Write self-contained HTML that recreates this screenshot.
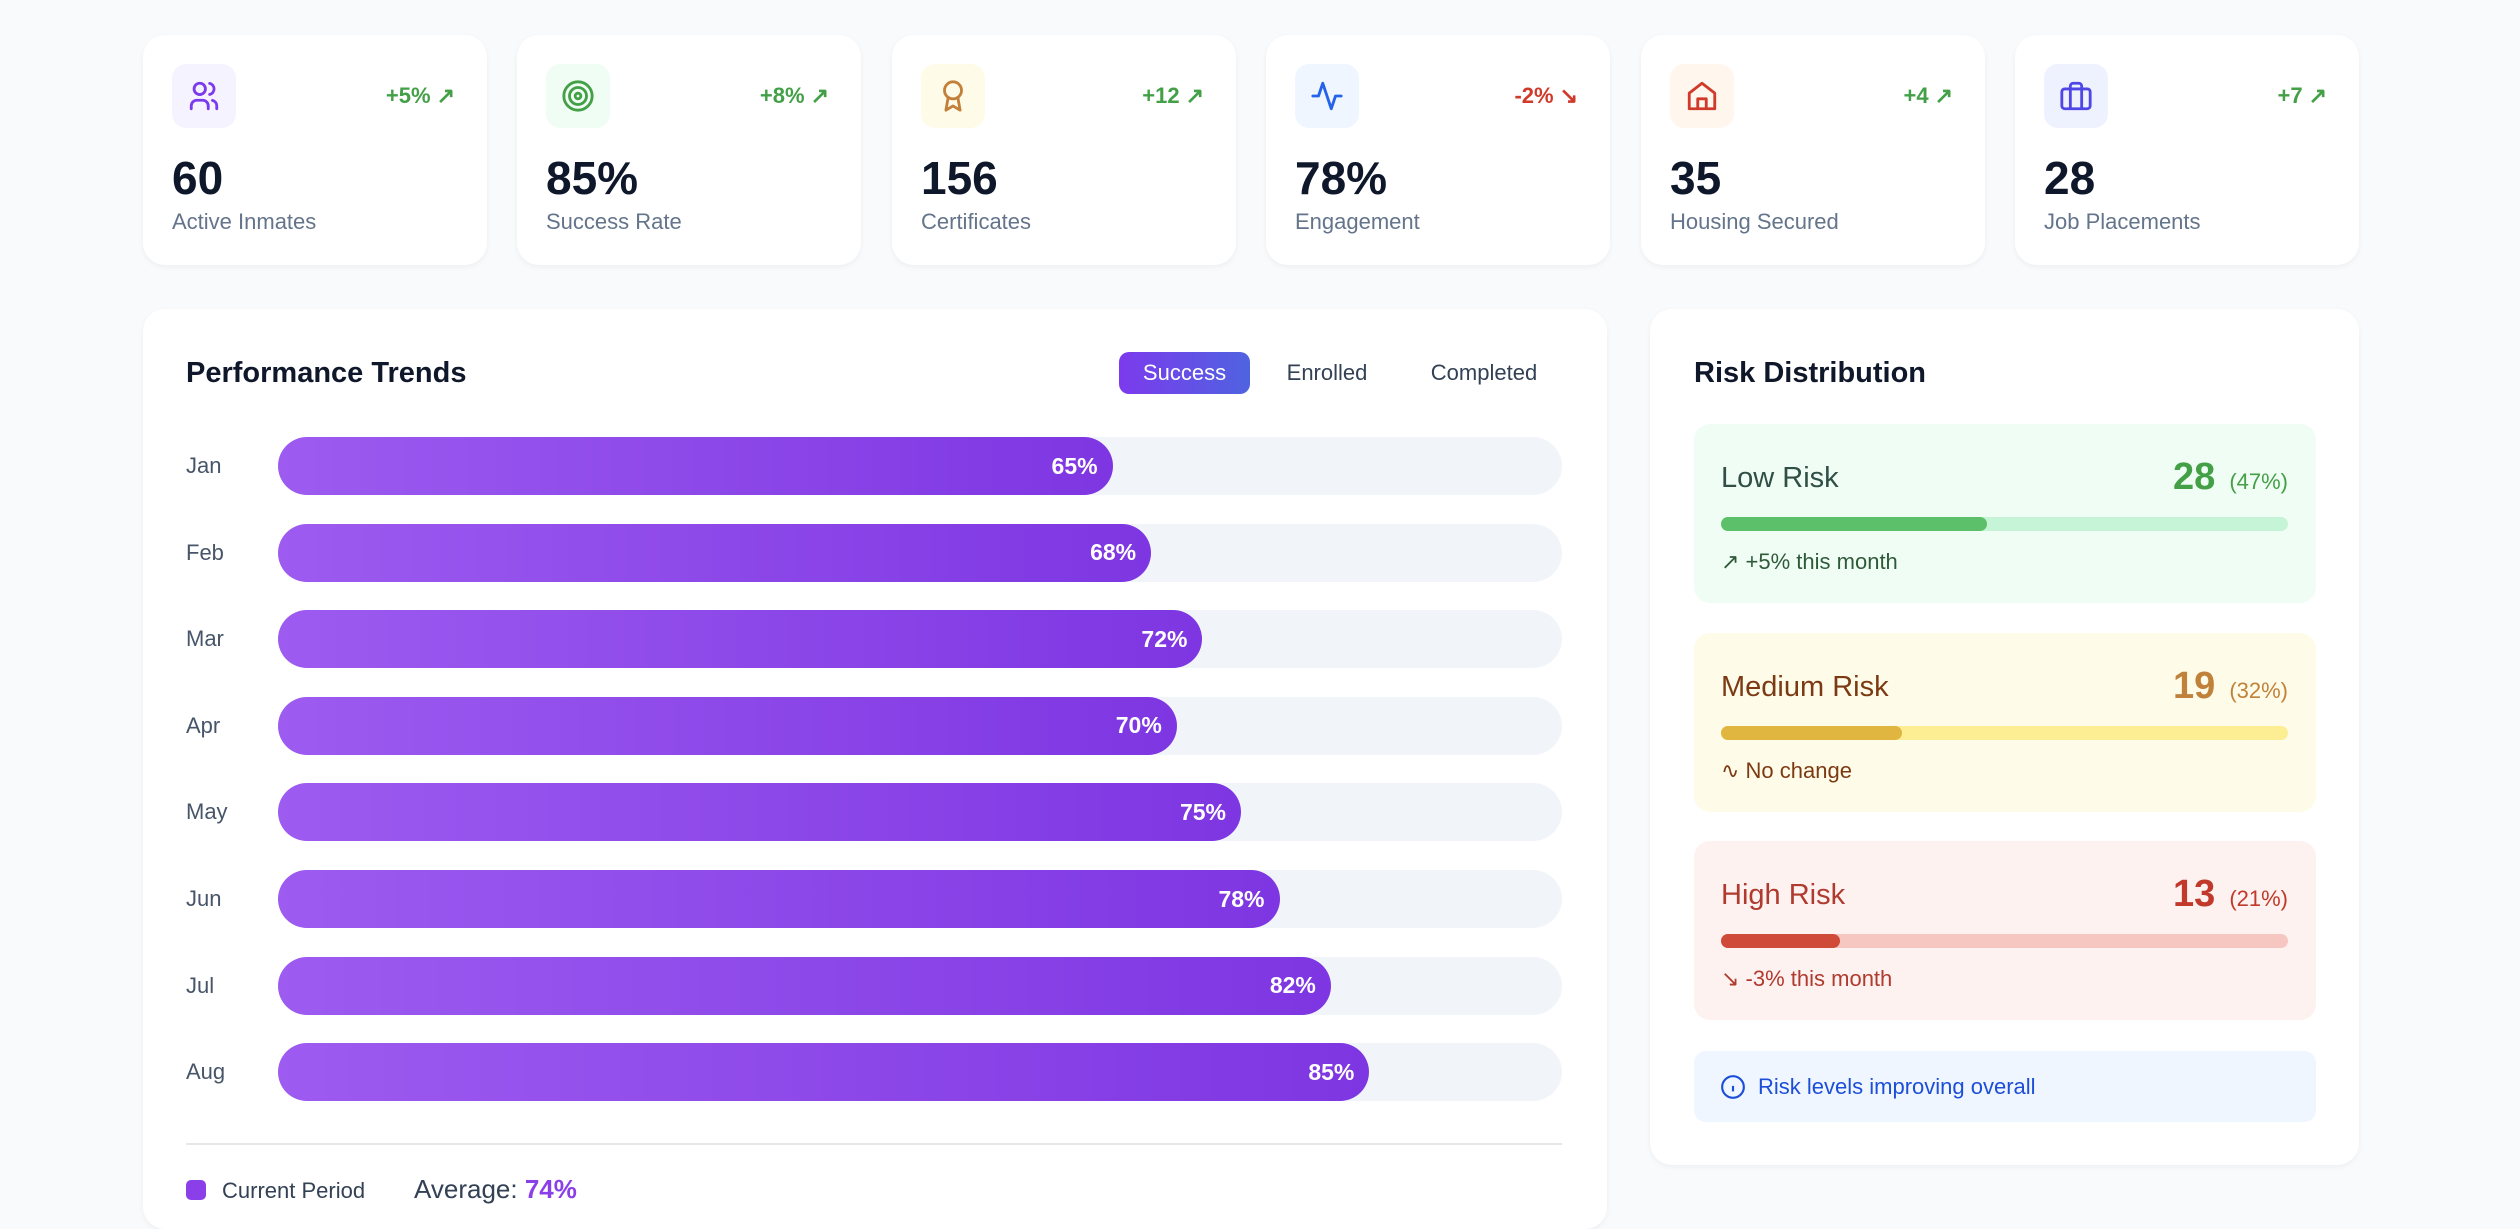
<!DOCTYPE html>
<html><head><meta charset="utf-8"><style>
*{box-sizing:border-box;margin:0;padding:0}
body{width:2520px;height:1192px;overflow:hidden;background:#f8fafc;font-family:"Liberation Sans",sans-serif;position:relative}
.card{position:absolute;background:#fff;border-radius:22px;box-shadow:0 2px 6px rgba(15,23,42,.05)}
.stat{top:35px;width:344px;height:230px}
.ib{position:absolute;left:29px;top:29px;width:64px;height:64px;border-radius:14px;display:flex;align-items:center;justify-content:center}
.trend{position:absolute;right:32px;top:48px;font-size:22px;font-weight:bold;display:flex;align-items:center;gap:6px}
.num{position:absolute;left:29px;top:116px;font-size:46px;font-weight:bold;color:#0f172a}
.lbl{position:absolute;left:29px;top:174px;font-size:22px;color:#64748b}
.t{position:absolute;font-size:29px;font-weight:bold;color:#0f172a}
.btn{position:absolute;top:352px;height:42px;font-size:22px;display:flex;align-items:center;justify-content:center;color:#334155;font-weight:500}
.mlab{position:absolute;left:186px;font-size:22px;color:#475569;transform:translateY(-50%)}
.track{position:absolute;left:278px;width:1284px;height:58px;border-radius:29px;background:#f1f5f9}
.bar{position:absolute;left:0;top:0;height:58px;border-radius:29px;background:linear-gradient(90deg,#9d5bf0,#7e36e2);color:#fff;font-weight:bold;font-size:23px;display:flex;align-items:center;justify-content:flex-end;padding-right:15px}
.rbox{position:absolute;left:1694px;width:622px;border-radius:16px;height:179px}
.rt{position:absolute;left:27px;top:38px;font-size:29px}
.rn{position:absolute;right:28px;top:32px;display:flex;align-items:baseline;gap:14px}
.rn b{font-size:38px}
.rn span{font-size:22px}
.rtrack{position:absolute;left:27px;right:28px;top:93px;height:14px;border-radius:7px}
.rfill{height:14px;border-radius:7px}
.rsub{position:absolute;left:27px;top:125px;font-size:22px;display:flex;align-items:center;gap:8px}
</style></head><body>

<div class="card stat" style="left:143px">
 <div class="ib" style="background:#f5f3ff"><svg width="34" height="34" viewBox="0 0 24 24" fill="none" stroke="#7c3aed" stroke-width="2" stroke-linecap="round"><circle cx="9" cy="7" r="4"/><path d="M3 21v-2a4 4 0 0 1 4-4h4a4 4 0 0 1 4 4v2"/><path d="M16 3.1a4 4 0 0 1 0 7.8M21 21v-2a4 4 0 0 0-3-3.9"/></svg></div>
 <div class="trend" style="color:#43a047">+5% <span>↗</span></div>
 <div class="num">60</div>
 <div class="lbl">Active Inmates</div>
</div>
<div class="card stat" style="left:517px">
 <div class="ib" style="background:#f0fdf4"><svg width="34" height="34" viewBox="0 0 24 24" fill="none" stroke="#43a047" stroke-width="2"><circle cx="12" cy="12" r="10"/><circle cx="12" cy="12" r="6"/><circle cx="12" cy="12" r="2"/></svg></div>
 <div class="trend" style="color:#43a047">+8% <span>↗</span></div>
 <div class="num">85%</div>
 <div class="lbl">Success Rate</div>
</div>
<div class="card stat" style="left:892px">
 <div class="ib" style="background:#fefce8"><svg width="34" height="34" viewBox="0 0 24 24" fill="none" stroke="#c2803a" stroke-width="2" stroke-linejoin="round"><circle cx="12" cy="8" r="6"/><path d="M15.5 13.5 17 22l-5-3-5 3 1.5-8.5"/></svg></div>
 <div class="trend" style="color:#43a047">+12 <span>↗</span></div>
 <div class="num">156</div>
 <div class="lbl">Certificates</div>
</div>
<div class="card stat" style="left:1266px">
 <div class="ib" style="background:#eff6ff"><svg width="34" height="34" viewBox="0 0 24 24" fill="none" stroke="#2563eb" stroke-width="2" stroke-linejoin="round" stroke-linecap="round"><path d="M22 12h-4l-3 9L9 3l-3 9H2"/></svg></div>
 <div class="trend" style="color:#d03a2a">-2% <span>↘</span></div>
 <div class="num">78%</div>
 <div class="lbl">Engagement</div>
</div>
<div class="card stat" style="left:1641px">
 <div class="ib" style="background:#fff7ed"><svg width="34" height="34" viewBox="0 0 24 24" fill="none" stroke="#d03a2a" stroke-width="2" stroke-linejoin="round"><path d="M3 10 12 3l9 7v11H3z"/><path d="M9 21v-7h6v7"/></svg></div>
 <div class="trend" style="color:#43a047">+4 <span>↗</span></div>
 <div class="num">35</div>
 <div class="lbl">Housing Secured</div>
</div>
<div class="card stat" style="left:2015px">
 <div class="ib" style="background:#eef2ff"><svg width="34" height="34" viewBox="0 0 24 24" fill="none" stroke="#4f46e5" stroke-width="2" stroke-linejoin="round"><rect x="2" y="7" width="20" height="14" rx="2"/><path d="M16 21V5a2 2 0 0 0-2-2h-4a2 2 0 0 0-2 2v16"/></svg></div>
 <div class="trend" style="color:#43a047">+7 <span>↗</span></div>
 <div class="num">28</div>
 <div class="lbl">Job Placements</div>
</div>

<div class="card" style="left:143px;top:309px;width:1464px;height:920px"></div>
<div class="t" style="left:186px;top:357px">Performance Trends</div>
<div class="btn" style="left:1119px;width:131px;border-radius:10px;background:linear-gradient(90deg,#7c3aed,#4f63e0);color:#fff">Success</div>
<div class="btn" style="left:1270px;width:114px">Enrolled</div>
<div class="btn" style="left:1412px;width:144px">Completed</div>
<div id="bars"></div>
<div style="position:absolute;left:186px;top:1143px;width:1376px;height:2px;background:#e5e7eb"></div>
<div style="position:absolute;left:186px;top:1180px;width:20px;height:20px;border-radius:5px;background:#8b3fe8"></div>
<div style="position:absolute;left:222px;top:1178px;font-size:22px;color:#334155">Current Period</div>
<div style="position:absolute;left:414px;top:1174px;font-size:26px;color:#334155">Average: <b style="color:#8b3fe8">74%</b></div>

<div class="card" style="left:1650px;top:309px;width:709px;height:856px"></div>
<div class="t" style="left:1694px;top:357px">Risk Distribution</div>

<div class="rbox" style="top:424px;background:#f0fdf4">
 <div class="rt" style="color:#2f4f47">Low Risk</div>
 <div class="rn" style="color:#43a047"><b>28</b><span>(47%)</span></div>
 <div class="rtrack" style="background:#c6f4d6"><div class="rfill" style="width:47%;background:#5cbf6a"></div></div>
 <div class="rsub" style="color:#2f5a3a">↗ +5% this month</div>
</div>
<div class="rbox" style="top:633px;background:#fefce8">
 <div class="rt" style="color:#7c3a14">Medium Risk</div>
 <div class="rn" style="color:#c0823a"><b>19</b><span>(32%)</span></div>
 <div class="rtrack" style="background:#fdee93"><div class="rfill" style="width:32%;background:#e0b540"></div></div>
 <div class="rsub" style="color:#7c3a14">∿ No change</div>
</div>
<div class="rbox" style="top:841px;background:#fdf2f0">
 <div class="rt" style="color:#b03a2e">High Risk</div>
 <div class="rn" style="color:#c0392b"><b>13</b><span>(21%)</span></div>
 <div class="rtrack" style="background:#f6c6c0"><div class="rfill" style="width:21%;background:#d04a3a"></div></div>
 <div class="rsub" style="color:#b03a2e">↘ -3% this month</div>
</div>
<div style="position:absolute;left:1694px;top:1051px;width:622px;height:71px;border-radius:12px;background:#eff6ff;display:flex;align-items:center;padding-left:26px;gap:12px;color:#1d4ed8;font-size:22px;font-weight:500">
 <svg width="26" height="26" viewBox="0 0 24 24" fill="none" stroke="#1d4ed8" stroke-width="2"><circle cx="12" cy="12" r="10"/><path d="M12 16v-5M12 8h.01"/></svg>
 Risk levels improving overall</div>

<script>
const months=["Jan","Feb","Mar","Apr","May","Jun","Jul","Aug"];
const successValues=[65,68,72,70,75,78,82,85];
const trackW=1284, firstY=466, rowStep=86.6;
function xScale(v){return v/100*trackW;}
function yCenter(i){return firstY+i*rowStep;}
const root=document.getElementById('bars');
months.forEach((m,i)=>{
  const l=document.createElement('div');
  l.className='mlab';
  l.style.top=yCenter(i)+'px';
  l.textContent=m;
  
  
  root.appendChild(l);
  const t=document.createElement('div');
  t.className='track';
  t.style.top=(yCenter(i)-29)+'px';
  
  
  const b=document.createElement('div');
  b.className='bar';
  b.style.width=xScale(successValues[i])+'px';
  b.textContent=successValues[i]+'%';
  
  
  t.appendChild(b);
  root.appendChild(t);
});
</script>
</body></html>
